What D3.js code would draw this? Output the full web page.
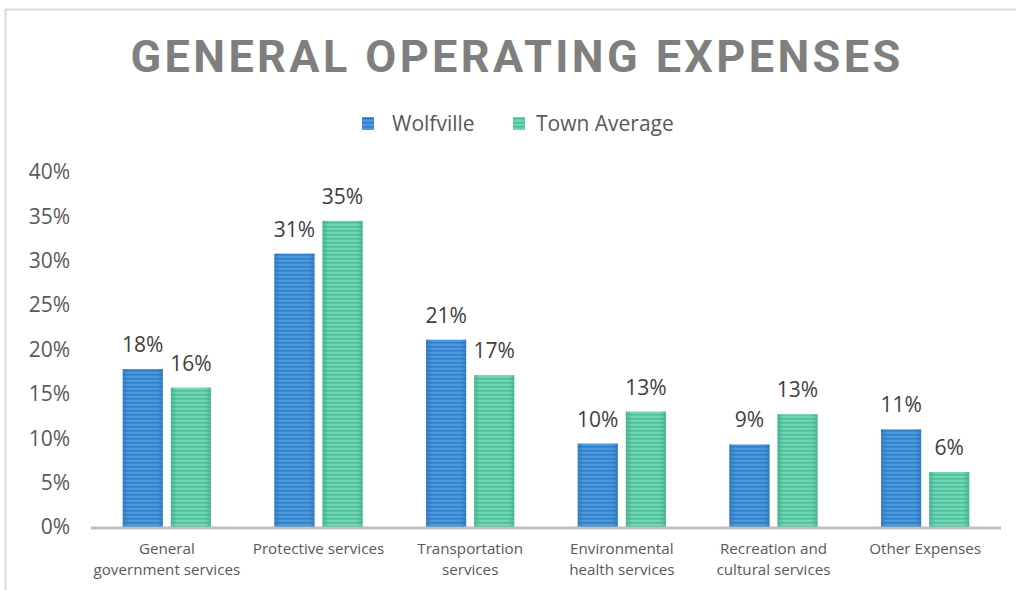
<!DOCTYPE html>
<html>
<head>
<meta charset="utf-8">
<script src="https://cdn.jsdelivr.net/npm/d3@7"></script>
<style>
  html, body { margin: 0; padding: 0; background: #fff; }
  svg { display: block; }
</style>
</head>
<body>
<div id="chart"></div>
<script>
const categories = [
  ["General", "government services"],
  ["Protective services"],
  ["Transportation", "services"],
  ["Environmental", "health services"],
  ["Recreation and", "cultural services"],
  ["Other Expenses"]
];
const seriesNames = ["Wolfville", "Town Average"];
const wolfville = [17.8, 30.8, 21.1, 9.4, 9.3, 11.0];
const townAverage = [15.7, 34.5, 17.1, 13.0, 12.7, 6.2];
const valueLabels = [
  ["18%", "31%", "21%", "10%", "9%", "11%"],
  ["16%", "35%", "17%", "13%", "13%", "6%"]
];
const yTicks = [0, 5, 10, 15, 20, 25, 30, 35, 40];

const width = 1016;
const height = 590;
const margin = { top: 172, right: 15, bottom: 63, left: 91 };
const font = "'Open Sans', sans-serif";
const textColor = "#595959";

const data = categories.map((c, i) => ({
  key: c.join(" "),
  lines: c,
  values: [wolfville[i], townAverage[i]],
  labels: [valueLabels[0][i], valueLabels[1][i]]
}));

const svg = d3.select("#chart")
  .append("svg")
  .attr("width", width)
  .attr("height", height);

// striped fills, like the reference's textured bars
const defs = svg.append("defs");
const fills = [
  { id: "blue", base: "#4c9ade", dark: "#2f7cc6", edge: "#2a6fb3" },
  { id: "green", base: "#72d5b5", dark: "#48bd98", edge: "#3aa783" }
];
fills.forEach((f) => {
  const p = defs.append("pattern")
    .attr("id", "stripe-" + f.id)
    .attr("patternUnits", "userSpaceOnUse")
    .attr("width", 8)
    .attr("height", 4);
  p.append("rect").attr("width", 8).attr("height", 4).attr("fill", f.base);
  p.append("rect").attr("y", 2).attr("width", 8).attr("height", 1.5).attr("fill", f.dark);
  const g = defs.append("linearGradient")
    .attr("id", "edge-" + f.id)
    .attr("x1", 0).attr("x2", 1).attr("y1", 0).attr("y2", 0);
  g.append("stop").attr("offset", "0%").attr("stop-color", f.edge).attr("stop-opacity", 0.6);
  g.append("stop").attr("offset", "15%").attr("stop-color", f.edge).attr("stop-opacity", 0);
  g.append("stop").attr("offset", "85%").attr("stop-color", f.edge).attr("stop-opacity", 0);
  g.append("stop").attr("offset", "100%").attr("stop-color", f.edge).attr("stop-opacity", 0.6);
});

// chart frame
svg.append("path")
  .attr("d", `M5.5,${height} V9.5 H${width}`)
  .attr("fill", "none")
  .attr("stroke", "#d9d9d9")
  .attr("stroke-width", 2);

// title
svg.append("text")
  .attr("x", 517)
  .attr("y", 72)
  .attr("text-anchor", "middle")
  .attr("font-family", "Roboto, sans-serif")
  .attr("font-weight", 700)
  .attr("font-size", 45)
  .attr("letter-spacing", 3.4)
  .attr("fill", "#7f7f7f")
  .text("GENERAL OPERATING EXPENSES");

const x0 = d3.scaleBand()
  .domain(data.map((d) => d.key))
  .range([margin.left, width - margin.right])
  .padding(0);

const x1 = d3.scaleBand()
  .domain(seriesNames)
  .range([0, x0.bandwidth()])
  .paddingInner(0.167)
  .paddingOuter(0.66);

const y = d3.scaleLinear()
  .domain([0, 40])
  .range([height - margin.bottom, margin.top]);

// legend
const legend = svg.append("g").attr("font-family", font).attr("font-size", 21).attr("fill", textColor);
const legendX = [362, 513];
const legendTextX = [392, 536];
seriesNames.forEach((s, i) => {
  legend.append("rect")
    .attr("x", legendX[i]).attr("y", 117)
    .attr("width", 12).attr("height", 13)
    .attr("fill", `url(#stripe-${fills[i].id})`);
  legend.append("text")
    .attr("x", legendTextX[i]).attr("y", 131)
    .text(s);
});

// y axis labels
svg.append("g")
  .attr("font-family", font)
  .attr("font-size", 21)
  .attr("fill", textColor)
  .selectAll("text")
  .data(yTicks)
  .join("text")
  .attr("x", 70)
  .attr("y", (d) => y(d))
  .attr("dy", "0.35em")
  .attr("text-anchor", "end")
  .text((d) => d + "%");

// bars
const groups = svg.append("g")
  .selectAll("g")
  .data(data)
  .join("g")
  .attr("transform", (d) => `translate(${x0(d.key)},0)`);

groups.selectAll("rect.bar")
  .data((d) => d.values.map((v, i) => ({ s: seriesNames[i], v, i })))
  .join("rect")
  .attr("class", "bar")
  .attr("x", (d) => x1(d.s))
  .attr("y", (d) => y(d.v))
  .attr("width", x1.bandwidth())
  .attr("height", (d) => y(0) - y(d.v))
  .attr("fill", (d) => `url(#stripe-${fills[d.i].id})`);

groups.selectAll("rect.edge")
  .data((d) => d.values.map((v, i) => ({ s: seriesNames[i], v, i })))
  .join("rect")
  .attr("class", "edge")
  .attr("x", (d) => x1(d.s))
  .attr("y", (d) => y(d.v))
  .attr("width", x1.bandwidth())
  .attr("height", (d) => y(0) - y(d.v))
  .attr("fill", (d) => `url(#edge-${fills[d.i].id})`);

// value labels
groups.selectAll("text.val")
  .data((d) => d.values.map((v, i) => ({ s: seriesNames[i], v, label: d.labels[i] })))
  .join("text")
  .attr("class", "val")
  .attr("x", (d) => x1(d.s) + x1.bandwidth() / 2)
  .attr("y", (d) => y(d.v) - 17)
  .attr("text-anchor", "middle")
  .attr("font-family", font)
  .attr("font-size", 21)
  .attr("fill", "#404040")
  .text((d) => d.label);

// x axis line
svg.append("line")
  .attr("x1", margin.left)
  .attr("x2", width - margin.right)
  .attr("y1", y(0) + 1)
  .attr("y2", y(0) + 1)
  .attr("stroke", "#bfbfbf")
  .attr("stroke-width", 3);

// category labels
const catLabels = svg.append("g")
  .attr("font-family", font)
  .attr("font-size", 15.2)
  .attr("fill", textColor)
  .selectAll("text")
  .data(data)
  .join("text")
  .attr("x", (d) => x0(d.key) + x0.bandwidth() / 2)
  .attr("y", 554)
  .attr("text-anchor", "middle");

catLabels.selectAll("tspan")
  .data((d) => d.lines)
  .join("tspan")
  .attr("x", function () { return d3.select(this.parentNode).attr("x"); })
  .attr("dy", (d, i) => (i === 0 ? 0 : 21))
  .text((d) => d);
</script>
</body>
</html>
